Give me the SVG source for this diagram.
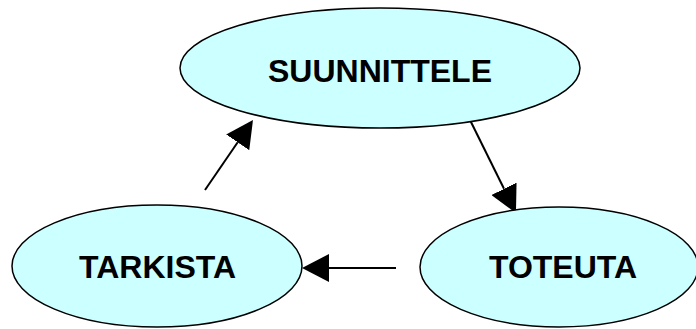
<svg xmlns="http://www.w3.org/2000/svg" width="696" height="329" viewBox="0 0 696 329">
  <style>
    .node ellipse { fill: #CCFFFF; stroke: #000; stroke-width: 1.5; }
    .node text { font-family: "Liberation Sans", Arial, sans-serif; font-weight: bold; font-size: 32px; fill: #000; text-anchor: middle; }
    .edge { stroke: #000; stroke-width: 2; fill: none; marker-end: url(#arrow); }
  </style>
  <defs>
    <marker id="arrow" viewBox="0 0 27 28" refX="0" refY="14" markerWidth="27" markerHeight="28" markerUnits="userSpaceOnUse" orient="auto">
      <path d="M0,0 L27,14 L0,28 Z" fill="#000"/>
    </marker>
  </defs>
  <rect width="696" height="329" fill="#fff"/>
  <g id="connectors">
    <line class="edge" x1="205" y1="190" x2="237.7" y2="142.3"/>
    <line class="edge" x1="470" y1="120" x2="504" y2="188.8"/>
    <line class="edge" x1="396" y1="268" x2="329" y2="268"/>
  </g>
  <g id="suunnittele" class="node">
    <ellipse cx="380" cy="68" rx="200" ry="60"/>
    <text x="380" y="82">SUUNNITTELE</text>
  </g>
  <g id="tarkista" class="node">
    <ellipse cx="157" cy="266" rx="145" ry="61"/>
    <text x="157.5" y="278">TARKISTA</text>
  </g>
  <g id="toteuta" class="node">
    <ellipse cx="559" cy="267" rx="139" ry="60"/>
    <text x="563" y="278">TOTEUTA</text>
  </g>
</svg>
